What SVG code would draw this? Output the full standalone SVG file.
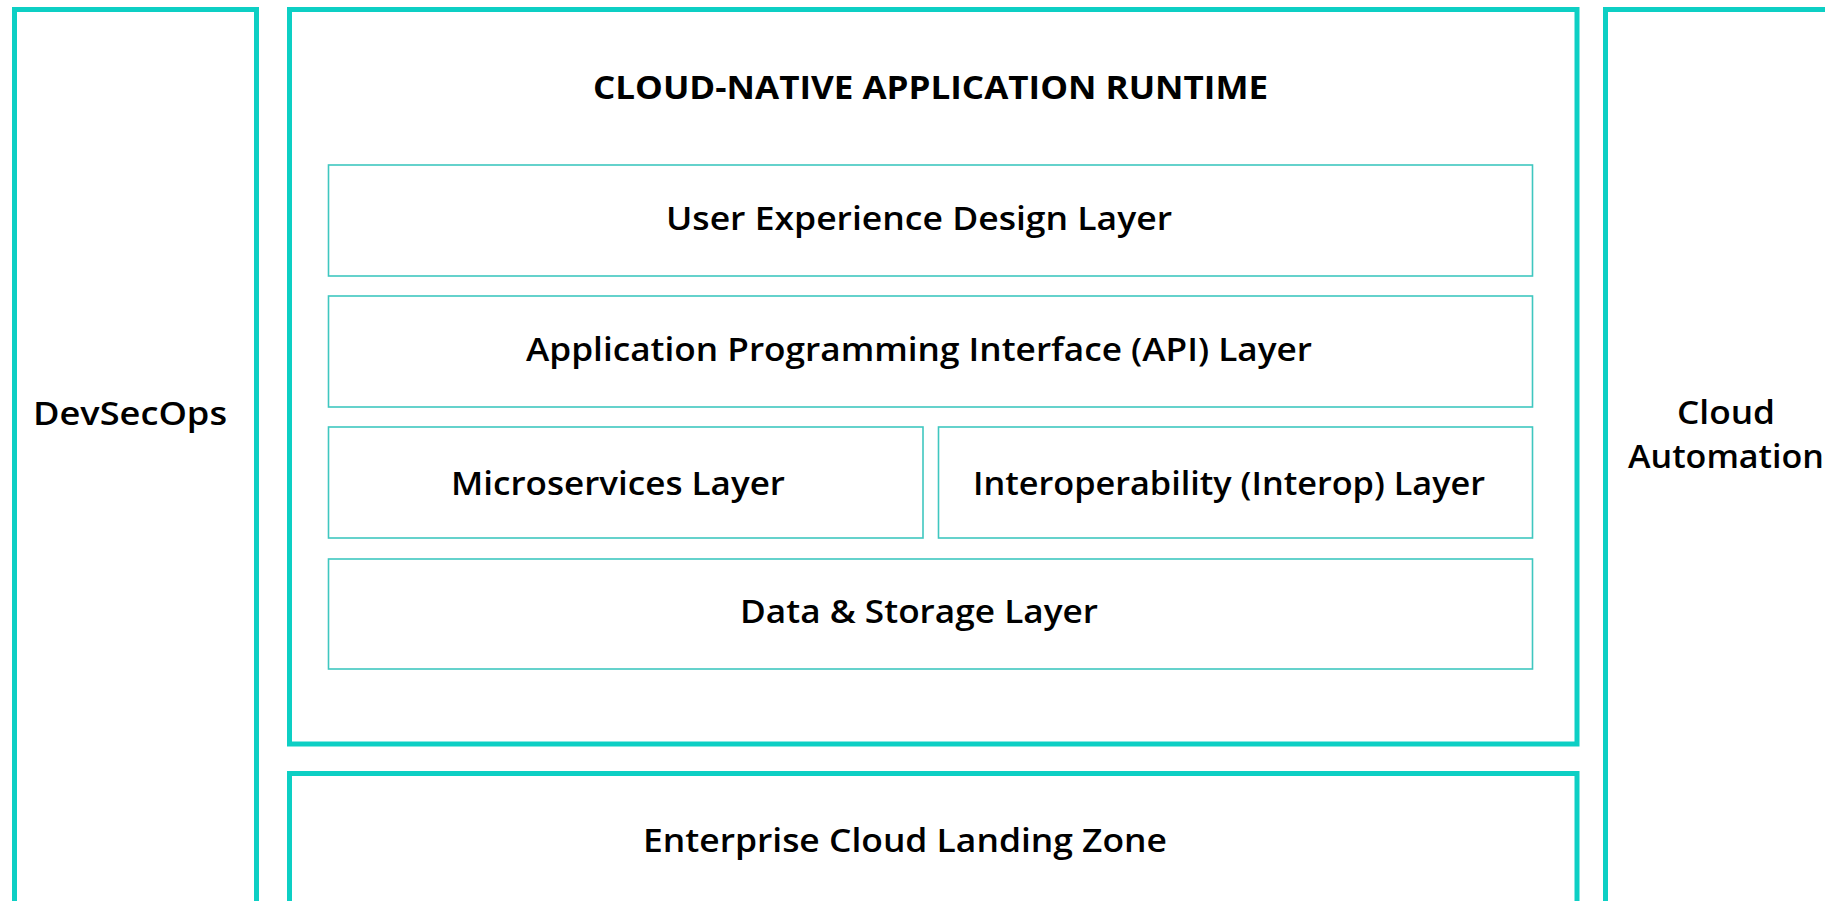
<svg xmlns="http://www.w3.org/2000/svg" width="1825" height="901" viewBox="0 0 1825 901">
  <style>
    .outer { fill: none; stroke: #0dcfc4; stroke-width: 5; }
    .inner { fill: none; stroke: #3fc7c0; stroke-width: 1.6; }
    text { font-family: "Open Sans", "Liberation Sans", sans-serif; font-size: 33px; font-weight: 550; fill: #000; }
    .title { font-weight: 700; font-size: 33px; }
  </style>
  <rect width="1825" height="901" fill="#ffffff"/>
  <g id="devsecops">
    <rect class="outer" x="14.5" y="9.5" width="242" height="900"/>
    <text x="33" y="425" textLength="194" lengthAdjust="spacingAndGlyphs">DevSecOps</text>
  </g>
  <g id="runtime">
    <rect class="outer" x="289.5" y="9.5" width="1287.5" height="734.5"/>
    <text class="title" x="593" y="99.3" textLength="675" lengthAdjust="spacingAndGlyphs">CLOUD-NATIVE APPLICATION RUNTIME</text>
  </g>
  <g id="ux">
    <rect class="inner" x="328.5" y="165" width="1204" height="111"/>
    <text x="666" y="229.5" textLength="506" lengthAdjust="spacingAndGlyphs">User Experience Design Layer</text>
  </g>
  <g id="api">
    <rect class="inner" x="328.5" y="296" width="1204" height="111"/>
    <text x="526" y="360.5" textLength="786" lengthAdjust="spacingAndGlyphs">Application Programming Interface (API) Layer</text>
  </g>
  <g id="microservices">
    <rect class="inner" x="328.5" y="427" width="594.5" height="111"/>
    <text x="451" y="494.5" textLength="334" lengthAdjust="spacingAndGlyphs">Microservices Layer</text>
  </g>
  <g id="interop">
    <rect class="inner" x="938.5" y="427" width="594" height="111"/>
    <text x="973" y="494.5" textLength="512" lengthAdjust="spacingAndGlyphs">Interoperability (Interop) Layer</text>
  </g>
  <g id="data">
    <rect class="inner" x="328.5" y="559" width="1204" height="110"/>
    <text x="740" y="622.5" textLength="358" lengthAdjust="spacingAndGlyphs">Data &amp; Storage Layer</text>
  </g>
  <g id="landing-zone">
    <rect class="outer" x="289.5" y="773.5" width="1287.5" height="200"/>
    <text x="643" y="851.7" textLength="524" lengthAdjust="spacingAndGlyphs">Enterprise Cloud Landing Zone</text>
  </g>
  <g id="cloud-automation">
    <rect class="outer" x="1605.5" y="9.5" width="242" height="900"/>
    <text x="1677" y="423.5" textLength="98" lengthAdjust="spacingAndGlyphs">Cloud</text>
    <text x="1628" y="467.7" textLength="196" lengthAdjust="spacingAndGlyphs">Automation</text>
  </g>
  <g id="connectors"></g>
</svg>
